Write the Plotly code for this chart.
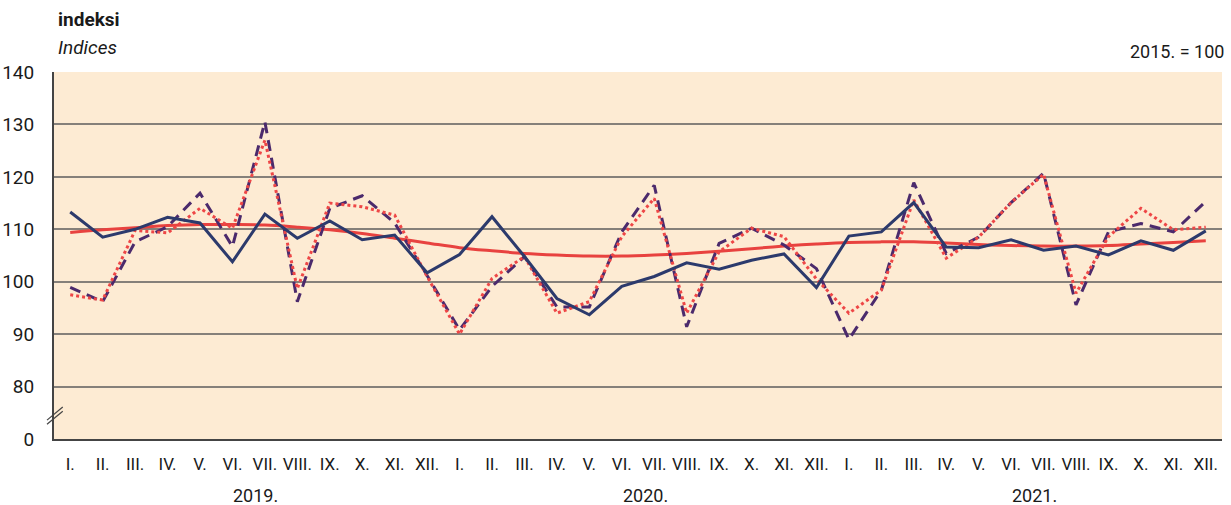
import plotly.graph_objects as go

months = ["I.", "II.", "III.", "IV.", "V.", "VI.", "VII.", "VIII.", "IX.", "X.", "XI.", "XII."]
years = ["2019.", "2020.", "2021."]
tick_labels = months * 3

navy_solid = [113.3, 108.5, 110.0, 112.3, 111.2, 103.8, 112.9, 108.3, 111.6, 108.0, 108.9, 101.7,
              105.2, 112.4, 104.8, 96.8, 93.7, 99.1, 101.0, 103.6, 102.4, 104.1, 105.3, 98.9,
              108.7, 109.5, 115.1, 106.6, 106.5, 108.0, 106.0, 106.8, 105.1, 107.8, 106.0, 109.7]

purple_dashed = [98.9, 96.2, 107.6, 110.5, 116.9, 106.7, 130.5, 96.2, 114.0, 116.4, 111.2, 101.2,
                 90.8, 99.1, 104.8, 95.2, 95.2, 109.5, 118.4, 91.4, 107.3, 110.2, 107.0, 102.5,
                 89.0, 98.4, 118.9, 105.4, 108.5, 115.1, 120.7, 95.6, 109.5, 111.1, 109.5, 115.3]

red_dotted = [97.5, 96.5, 109.8, 109.3, 114.0, 110.2, 127.0, 98.7, 115.0, 114.3, 112.7, 101.0,
              90.0, 100.6, 104.8, 94.0, 96.2, 108.6, 115.9, 94.0, 105.7, 110.2, 108.6, 100.5,
              94.0, 98.4, 115.6, 104.5, 108.5, 115.1, 120.5, 97.8, 108.6, 114.0, 109.9, 110.4]

trend = [109.4, 109.9, 110.3, 110.7, 110.9, 110.9, 110.8, 110.4, 109.9, 109.2, 108.3, 107.4,
         106.5, 105.9, 105.4, 105.1, 104.9, 104.9, 105.1, 105.4, 105.8, 106.3, 106.8, 107.2,
         107.5, 107.6, 107.6, 107.4, 107.1, 106.9, 106.8, 106.8, 106.9, 107.2, 107.5, 107.8]

y_tickvals = [70, 80, 90, 100, 110, 120, 130, 140]
y_ticktext = ["0", "80", "90", "100", "110", "120", "130", "140"]

x = list(range(len(tick_labels)))
FONT = "Roboto, Liberation Sans, sans-serif"

fig = go.Figure()
fig.add_trace(go.Scatter(x=x, y=trend, mode="lines", line=dict(color="#E8423F", width=3, shape="spline"),
                         hoverinfo="skip"))
fig.add_trace(go.Scatter(x=x, y=purple_dashed, mode="lines",
                         line=dict(color="#4B2A6C", width=3, dash="11px,7px")))
fig.add_trace(go.Scatter(x=x, y=red_dotted, mode="lines",
                         line=dict(color="#EE4646", width=3, dash="dot")))
fig.add_trace(go.Scatter(x=x, y=navy_solid, mode="lines",
                         line=dict(color="#2C3A6C", width=3)))

fig.update_layout(
    width=1231, height=505,
    margin=dict(l=54, r=9, t=72, b=66, autoexpand=False),
    paper_bgcolor="white",
    plot_bgcolor="#FDEBD3",
    showlegend=False,
    font=dict(family=FONT, color="#1a1a1a"),
)
fig.update_xaxes(
    range=[-0.5, 35.5], tickmode="array", tickvals=x, ticktext=tick_labels,
    showgrid=False, zeroline=False, showline=True, linecolor="#444444", linewidth=2,
    tickfont=dict(size=17, family=FONT, color="#1a1a1a"), ticks="", ticklabelstandoff=9,
    automargin=False,
)
fig.update_yaxes(
    range=[70, 140], tickmode="array", tickvals=y_tickvals, ticktext=y_ticktext,
    showgrid=True, gridcolor="#85807a", gridwidth=1.5, zeroline=False,
    showline=True, linecolor="#444444", linewidth=2,
    tickfont=dict(size=19, family=FONT, color="#1a1a1a"), ticks="", ticklabelstandoff=14,
    automargin=False,
)

# axis break marks
for dy in (0.0, -0.8):
    fig.add_shape(type="line", xref="paper", yref="y", x0=-0.006, x1=0.0075,
                  y0=73.6 + dy, y1=76.1 + dy, line=dict(color="#444444", width=1.2))

anns = [
    dict(text="<b>indeksi</b>", x=0.002, y=1.142, xanchor="left", yanchor="middle",
         font=dict(size=19, family=FONT)),
    dict(text="<i>Indices</i>", x=0.002, y=1.066, xanchor="left", yanchor="middle",
         font=dict(size=19, family=FONT)),
    dict(text="2015. = 100", x=1.0035, y=1.055, xanchor="right", yanchor="middle",
         font=dict(size=18, family=FONT)),
]
for i, yr in enumerate(years):
    anns.append(dict(text=yr, x=5.5 + 12 * i, xref="x", y=-0.153, yref="paper", xshift=7,
                     xanchor="center", yanchor="middle", showarrow=False,
                     font=dict(size=18, family=FONT, color="#1a1a1a")))
for a in anns:
    a.setdefault("xref", "paper")
    a.setdefault("yref", "paper")
    a.setdefault("showarrow", False)
    a.setdefault("font", {})
    a["font"].setdefault("color", "#1a1a1a")
fig.update_layout(annotations=anns)

fig.write_html("out.html", config={"displayModeBar": False},
               post_script="document.body.style.margin='0';")
